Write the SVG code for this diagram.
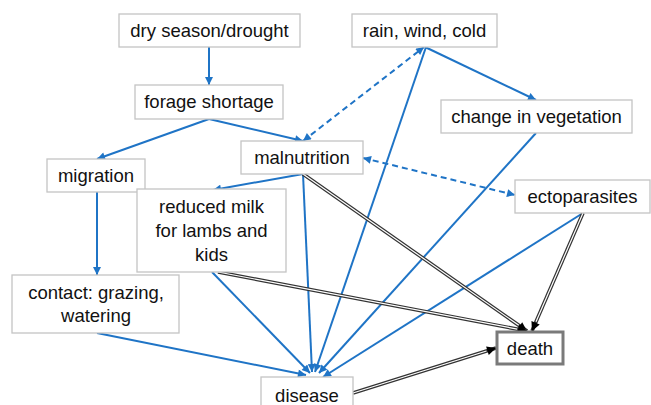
<svg xmlns="http://www.w3.org/2000/svg" width="651" height="405" viewBox="0 0 651 405">
<style>
.box{fill:#fff;stroke:#c4c4c4;stroke-width:1.3}
.t{font-family:"Liberation Sans",Arial,sans-serif;font-size:18.5px;fill:#111;text-anchor:middle}
.b{fill:none;stroke:#1f74c6;stroke-width:2;marker-end:url(#ab)}
.d{fill:none;stroke:#1f74c6;stroke-width:2;stroke-dasharray:6,4;marker-end:url(#ab);marker-start:url(#ab)}
.k{fill:none;stroke:#333;stroke-width:3.6;marker-end:url(#ak)}
.w{fill:none;stroke:#fff;stroke-width:1.2}
</style>
<defs>
<marker id="ab" viewBox="0 0 10 10" refX="10" refY="5" markerUnits="userSpaceOnUse" markerWidth="10" markerHeight="8" orient="auto-start-reverse"><path d="M0,0 L10,5 L0,10 z" fill="#1f74c6"/></marker>
<marker id="ak" viewBox="0 0 10 10" refX="10" refY="5" markerUnits="userSpaceOnUse" markerWidth="11" markerHeight="9" orient="auto"><path d="M0,0 L10,5 L0,10 z" fill="#000"/></marker>
</defs>
<rect width="651" height="405" fill="#fff"/>
<g id="connectors">
<path class="b" d="M209,47 L209,85"/>
<path class="b" d="M209,119 L97,159"/>
<path class="b" d="M209,119 L303,141"/>
<path class="b" d="M425,47 L536,100"/>
<path class="d" d="M303,141 L424,47"/>
<path class="d" d="M363,158 L515,195"/>
<path class="b" d="M303,174 L213,190"/>
<path class="b" d="M97,192 L97,275"/>
<path class="b" d="M97,333 L306,375"/>
<path class="b" d="M212,272 L310,373"/>
<path class="b" d="M303,174 L312,372"/>
<path class="b" d="M426,47 L315,372"/>
<path class="b" d="M536,133 L319,373"/>
<path class="b" d="M583,213 L323,377"/>
<path class="k" d="M303,174 L527,331"/>
<path class="w" d="M303,174 L518.8,325.3"/>
<path class="k" d="M218,272 L527,331"/>
<path class="w" d="M218,272 L517.2,329.1"/>
<path class="k" d="M583,213 L532,331"/>
<path class="w" d="M583,213 L536,321.8"/>
<path class="k" d="M353,393 L496,348"/>
<path class="w" d="M353,393 L486.5,351"/>
</g>
<g id="dry"><rect class="box" x="119" y="14" width="181" height="33"/><text class="t" x="209.5" y="37">dry season/drought</text></g>
<g id="forage"><rect class="box" x="135" y="85" width="148" height="34"/><text class="t" x="209" y="108">forage shortage</text></g>
<g id="rain"><rect class="box" x="352" y="14" width="145" height="33"/><text class="t" x="424.5" y="37">rain, wind, cold</text></g>
<g id="change"><rect class="box" x="441" y="100" width="191" height="33"/><text class="t" x="536.5" y="123">change in vegetation</text></g>
<g id="malnutrition"><rect class="box" x="241" y="141" width="122" height="33"/><text class="t" x="302" y="164">malnutrition</text></g>
<g id="migration"><rect class="box" x="47" y="159" width="98" height="33"/><text class="t" x="96" y="182">migration</text></g>
<g id="ectoparasites"><rect class="box" x="515" y="180" width="135" height="33"/><text class="t" x="582.5" y="203">ectoparasites</text></g>
<g id="milk"><rect class="box" x="137" y="189" width="149" height="83"/><text class="t" x="211.5" y="213">reduced milk</text><text class="t" x="211.5" y="237">for lambs and</text><text class="t" x="211.5" y="261">kids</text></g>
<g id="contact"><rect class="box" x="12" y="275" width="167" height="58"/><text class="t" x="96" y="299">contact: grazing,</text><text class="t" x="96" y="322">watering</text></g>
<g id="disease"><rect class="box" x="261" y="377" width="92" height="40"/><text class="t" x="307" y="402">disease</text></g>
<g id="death"><rect x="497" y="332" width="66" height="32" fill="#fff" stroke="#7a7a7a" stroke-width="3"/><text class="t" x="530" y="355">death</text></g>
</svg>
